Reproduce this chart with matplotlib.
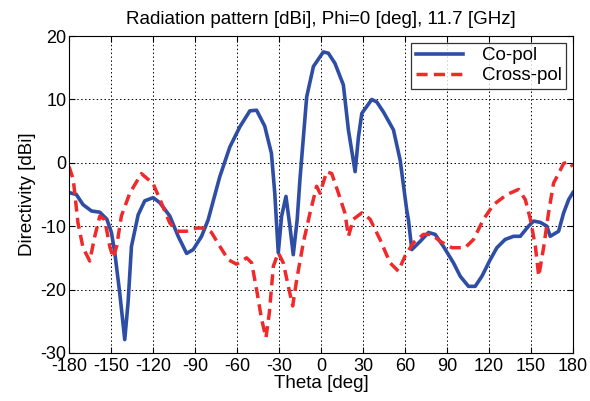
import matplotlib
matplotlib.use("Agg")
import matplotlib.pyplot as plt
import numpy as np

plt.rcParams['font.family'] = ['Liberation Sans', 'DejaVu Sans']
plt.rcParams['axes.unicode_minus'] = False

co_theta = [-180, -174.8, -170, -164, -158, -153, -149.7, -147.3, -143.8, -140.2, -137.8, -135.4,
            -130.6, -125.9, -119.9, -115.1, -108, -102, -96, -91.3, -85.3, -80.6, -72.3, -65.1,
            -57.9, -50.8, -46, -40.2, -35.4, -33, -30.5, -28.1, -25, -22.2, -19.8, -17, -15,
            -10.2, -5.4, 1.7, 5.3, 10, 16, 19.6, 24.4, 26.8, 29.2, 36.3, 39.9, 44.7, 51.8, 56.6,
            61.3, 62.5, 64.9, 70.9, 76.8, 81.6, 87.5, 94.7, 99.5, 105.4, 110.2, 115, 120.9,
            125.7, 131.6, 137.6, 142.4, 148.3, 151.9, 156.7, 161.4, 163.8, 169.8, 173.4, 177, 180]
co_pol = [-4.7, -5, -6.6, -7.6, -7.8, -8.9, -11, -14.2, -20.5, -27.9, -22, -13.2,
          -8.2, -6, -5.5, -6.3, -8.4, -11.6, -14.3, -13.7, -11.6, -9, -2.2, 2.5,
          5.7, 8.2, 8.3, 5.8, 1.5, -4.8, -14.2, -8.4, -5.3, -10, -14.5, -9, -2.6,
          10.4, 15.2, 17.5, 17.3, 15.7, 12.3, 5.2, -1.4, 4.1, 7.8, 10, 9.6, 8, 5.2, 0.4,
          -7.5, -9, -13.7, -12.4, -11, -11.3, -13.2, -15.8, -17.9, -19.5, -19.5, -17.9, -15.3,
          -13.4, -12.1, -11.6, -11.6, -10, -9.2, -9.4, -10, -11.6, -10.8, -7.9, -5.8, -4.7]

x_theta = [-180, -177, -173.6, -170, -165.2, -161.6, -158, -154.5, -150.9, -148.5, -146, -142.6,
           -136.6, -128.3, -119.9, -115, -108, -102, -96, -88.9, -82.9, -78.2, -72.2, -66.2,
           -60.3, -53.1, -49.5, -46, -42.4, -39.3, -36.9, -34, -30.5, -26.9, -23.3, -20.2,
           -17.3, -12.6, -7.8, -3.1, -0.7, 4.1, 7.7, 12.5, 17.2, 19.6, 23.2, 29.2, 35.1, 42.2,
           49.4, 55.3, 60.1, 66.1, 73.2, 79.2, 85.2, 93.5, 103, 109, 116.2, 123.3, 132.9, 141.2,
           146, 149.6, 153.2, 155.6, 159.2, 162.6, 166.2, 168.6, 173.4, 177, 180]
cross_pol = [-0.6, -2.6, -9.5, -13.4, -15.5, -11.6, -8.4, -9, -13.2, -15, -13.2, -8.4,
             -4.8, -1.7, -3.3, -5.8, -9.5, -10.8, -10.8, -10.3, -10.3, -11, -13.2, -15.3,
             -16, -15, -15.8, -20, -24.7, -27.6, -23.7, -16.3, -14.2, -15.8, -19.5, -22.6,
             -18.4, -12.6, -7.9, -3.7, -4.8, -1.4, -1.7, -4.8, -8, -11.6, -8.9, -7.9, -8.9, -12.1,
             -15.8, -17.1, -14.7, -12.6, -11.3, -11.3, -12.4, -13.4, -13.4, -12.1, -8.9, -6.6, -5, -4.2,
             -5.8, -8.9, -13.2, -17.9, -13.2, -7.9, -3.2, -2.2, -0.1, 0.2, -0.6]

xticks = [-180, -150, -120, -90, -60, -30, 0, 30, 60, 90, 120, 150, 180]
yticks = [-30, -20, -10, 0, 10, 20]

fig = plt.figure(figsize=(5.9, 4.01), dpi=100)
ax = fig.add_axes([0.117, 0.12, 0.854, 0.79])

ax.plot(co_theta, co_pol, color='#2e4ea6', lw=2.6, label='Co-pol')
ax.plot(x_theta, cross_pol, color='#f02a2a', lw=2.5, ls=(0, (3.2, 1.8)), label='Cross-pol')

ax.set_xlim(-180, 180)
ax.set_ylim(-30, 20)
ax.set_xticks(xticks)
ax.set_yticks(yticks)
ax.tick_params(direction='in', labelsize=13, length=4, top=True, right=True)
ax.tick_params(axis='x', pad=4)
ax.tick_params(axis='y', pad=2)
ax.grid(True, color='black', ls=(0, (1.5, 2.5)), lw=0.7)
for s in ax.spines.values():
    s.set_linewidth(0.8)

ax.set_title('Radiation pattern [dBi], Phi=0 [deg], 11.7 [GHz]', fontsize=13.5, pad=9)
ax.set_xlabel('Theta [deg]', fontsize=13.5, labelpad=0)
ax.set_ylabel('Directivity [dBi]', fontsize=13.5, labelpad=3)

leg = ax.legend(loc='upper right', fontsize=13.5, frameon=True, fancybox=False,
                edgecolor='black', handlelength=2.5, handletextpad=1.0,
                borderaxespad=0.35, borderpad=0.25, labelspacing=0.15)
leg.get_frame().set_linewidth(0.9)

fig.savefig('out.png', dpi=100)
